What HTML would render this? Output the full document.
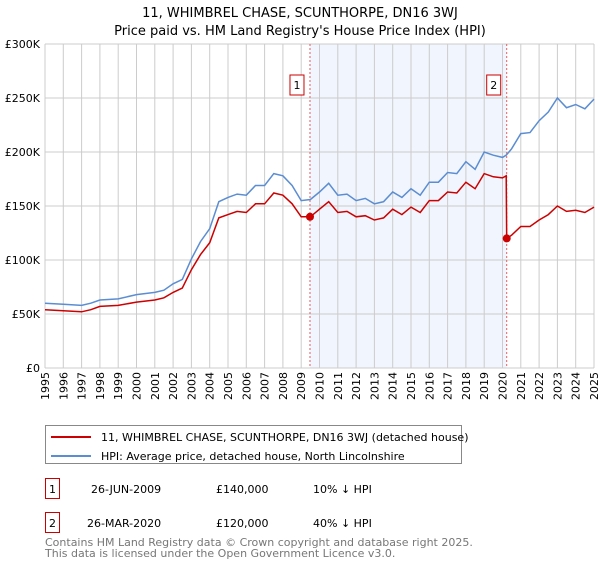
<!DOCTYPE html>
<html><head><meta charset="utf-8"><style>
body{margin:0;background:#fff;font-family:"DejaVu Sans","Liberation Sans",sans-serif;}
svg text{font-family:"DejaVu Sans","Liberation Sans",sans-serif;}
</style></head><body>
<svg id="chart" width="600" height="560" viewBox="0 0 600 560" xmlns="http://www.w3.org/2000/svg">
<text x="300" y="17" font-size="13" text-anchor="middle" fill="#000">11, WHIMBREL CHASE, SCUNTHORPE, DN16 3WJ</text>
<text x="300" y="35" font-size="13" text-anchor="middle" fill="#000">Price paid vs. HM Land Registry's House Price Index (HPI)</text>
<g id="grid"></g><g id="axes"></g><g id="series"></g>
<rect x="45.5" y="425.5" width="416" height="38" fill="#fff" stroke="#888"/>
<line x1="51" y1="437" x2="91" y2="437" stroke="#cc0000" stroke-width="2"/>
<text x="101" y="441" font-size="11">11, WHIMBREL CHASE, SCUNTHORPE, DN16 3WJ (detached house)</text>
<line x1="51" y1="456" x2="91" y2="456" stroke="#5b8dd2" stroke-width="2"/>
<text x="101" y="460" font-size="11">HPI: Average price, detached house, North Lincolnshire</text>
<rect x="45.5" y="478.5" width="14" height="20" fill="#fff" stroke="#cc0000"/>
<text x="52.5" y="493" font-size="11" text-anchor="middle">1</text>
<text x="91" y="493" font-size="11">26-JUN-2009</text>
<text x="216" y="493" font-size="11">£140,000</text>
<text x="313" y="493" font-size="11">10% ↓ HPI</text>
<rect x="45.5" y="512.5" width="14" height="20" fill="#fff" stroke="#cc0000"/>
<text x="52.5" y="527" font-size="11" text-anchor="middle">2</text>
<text x="87" y="527" font-size="11">26-MAR-2020</text>
<text x="216" y="527" font-size="11">£120,000</text>
<text x="313" y="527" font-size="11">40% ↓ HPI</text>
<text x="45" y="546" font-size="11" fill="#777">Contains HM Land Registry data © Crown copyright and database right 2025.</text>
<text x="45" y="557" font-size="11" fill="#777">This data is licensed under the Open Government Licence v3.0.</text>
</svg>
<script>
const yTicks=[0,50,100,150,200,250,300];
const yTickLabels=["£0","£50K","£100K","£150K","£200K","£250K","£300K"];
const years=[1995,1996,1997,1998,1999,2000,2001,2002,2003,2004,2005,2006,2007,2008,2009,2010,2011,2012,2013,2014,2015,2016,2017,2018,2019,2020,2021,2022,2023,2024,2025];
const hpiDates=[1995,1996,1997,1997.5,1998,1999,2000,2001,2001.5,2002,2002.5,2003,2003.5,2004,2004.5,2005,2005.5,2006,2006.5,2007,2007.5,2008,2008.5,2009,2009.5,2010,2010.5,2011,2011.5,2012,2012.5,2013,2013.5,2014,2014.5,2015,2015.5,2016,2016.5,2017,2017.5,2018,2018.5,2019,2019.5,2020,2020.2,2020.5,2021,2021.5,2022,2022.5,2023,2023.5,2024,2024.5,2025];
const hpiValues=[60,59,58,60,63,64,68,70,72,78,82,101,117,129,154,158,161,160,169,169,180,178,169,155,156,163,171,160,161,155,157,152,154,163,158,166,160,172,172,181,180,191,184,200,197,195,197,203,217,218,229,237,250,241,244,240,249];
const priceDates=[1995,1996,1997,1997.5,1998,1999,2000,2001,2001.5,2002,2002.5,2003,2003.5,2004,2004.5,2005,2005.5,2006,2006.5,2007,2007.5,2008,2008.5,2009,2009.5,2010,2010.5,2011,2011.5,2012,2012.5,2013,2013.5,2014,2014.5,2015,2015.5,2016,2016.5,2017,2017.5,2018,2018.5,2019,2019.5,2020,2020.2,2020.23,2020.5,2021,2021.5,2022,2022.5,2023,2023.5,2024,2024.5,2025];
const priceValues=[54,53,52,54,57,58,61,63,65,70,74,91,105,116,139,142,145,144,152,152,162,160,152,140,140,147,154,144,145,140,141,137,139,147,142,149,144,155,155,163,162,172,166,180,177,176,178,120,123,131,131,137,142,150,145,146,144,149];
const saleDates=[2009.48,2020.23];
const saleValues=[140,120];
const saleLabels=["1","2"];
const X0=45,X1=594,Y0=368,Y1=44;
const xs=y=>X0+(y-1995)/30*(X1-X0);
const ys=v=>Y0-v/300*(Y0-Y1);
const NS="http://www.w3.org/2000/svg";
function mk(t,a,p){const e=document.createElementNS(NS,t);for(const k in a)e.setAttribute(k,a[k]);p.appendChild(e);return e;}
const grid=document.getElementById('grid'),axes=document.getElementById('axes'),ser=document.getElementById('series');
const shade=mk('rect',{x:xs(saleDates[0]),y:Y1,width:xs(saleDates[1])-xs(saleDates[0]),height:Y0-Y1,fill:'#eef3fc',opacity:0.8},grid);


years.forEach((yr,i)=>{
 const l=mk('line',{x1:xs(yr),x2:xs(yr),y1:Y1,y2:Y0,stroke:'#ccc','stroke-width':1},grid);
 
 
 const t=mk('text',{x:0,y:0,'font-size':11,'text-anchor':'end',transform:`translate(${xs(yr)+4},372) rotate(-90)`},axes);
 t.textContent=yr;
 
 
});
yTicks.forEach((v,i)=>{
 const l=mk('line',{x1:X0,x2:X1,y1:ys(v),y2:ys(v),stroke:'#ccc','stroke-width':1},grid);
 
 
 const t=mk('text',{x:40,y:ys(v)+4,'font-size':11,'text-anchor':'end'},axes);
 t.textContent=yTickLabels[i];
 
 
});
saleDates.forEach((d,i)=>{
 const l=mk('line',{x1:xs(d),x2:xs(d),y1:Y1,y2:Y0,stroke:'#e06060','stroke-width':1,'stroke-dasharray':'2,2'},ser);
 
 
 const b=mk('rect',{x:xs(d)-20,y:75,width:14,height:20,fill:'#fff',stroke:'#cc0000'},ser);
 
 
 const t=mk('text',{x:xs(d)-13,y:89,'font-size':11,'text-anchor':'middle'},ser);
 t.textContent=saleLabels[i];
 
 
});
const hp=mk('path',{d:hpiDates.map((d,i)=>(i?'L':'M')+xs(d).toFixed(1)+','+ys(hpiValues[i]).toFixed(1)).join(''),fill:'none',stroke:'#5b8dd2','stroke-width':1.5},ser);


const pp=mk('path',{d:priceDates.map((d,i)=>(i?'L':'M')+xs(d).toFixed(1)+','+ys(priceValues[i]).toFixed(1)).join(''),fill:'none',stroke:'#cc0000','stroke-width':1.5},ser);


saleDates.forEach((d,i)=>{
 const c=mk('circle',{cx:xs(d),cy:ys(saleValues[i]),r:4,fill:'#cc0000'},ser);
 
 
});
</script>
</body></html>
